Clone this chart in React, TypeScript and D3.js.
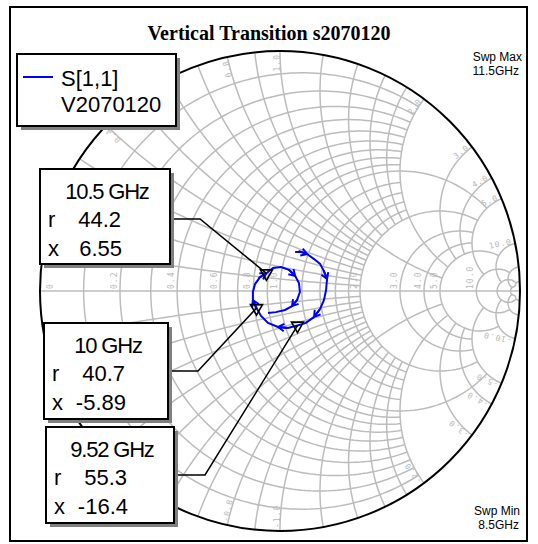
import React from "react";
import * as d3 from "d3";

const W = 538;
const H = 544;

// S[1,1] reflection coefficient, sweep 8.5 GHz -> 11.5 GHz
const s11Re = [0.063, 0.088, 0.113, 0.142, 0.167, 0.183, 0.196, 0.192, 0.183, 0.167, 0.142, 0.108, 0.073, 0.033, -0.008, -0.05, -0.079, -0.098, -0.113, -0.113, -0.104, -0.083, -0.057, -0.029, 0.004, 0.038, 0.063, 0.079, 0.083, 0.071, 0.05, 0.021, -0.017, -0.05];
const s11Im = [0.163, 0.163, 0.154, 0.133, 0.113, 0.083, 0.05, 0.004, -0.038, -0.075, -0.108, -0.133, -0.144, -0.154, -0.15, -0.133, -0.104, -0.071, -0.038, -0.004, 0.029, 0.058, 0.074, 0.096, 0.1, 0.088, 0.063, 0.033, -0.004, -0.038, -0.063, -0.079, -0.088, -0.092];

// markers (ohms, Z0 = 50)
const markerFreq = ["10.5 GHz", "10 GHz", "9.52 GHz"];
const markerR = [44.2, 40.7, 55.3];
const markerX = [6.55, -5.89, -16.4];
const markerRText = ["44.2", "40.7", "55.3"];
const markerXText = ["6.55", "-5.89", "-16.4"];
const z0 = 50;

// smith grid: resistance circles and the reactance range they span
const rGrid = [0.1, 0.2, 0.3, 0.4, 0.5, 0.6, 0.7, 0.8, 0.9, 1.2, 1.4, 1.6, 1.8, 1, 2, 3, 4, 5, 10, 20, 50];
const rGridLim = [2, 2, 2, 2, 2, 2, 2, 2, 2, 2, 2, 2, 2, 5, 5, 5, 5, 10, 20, 50, 50];
// reactance arcs and the resistance range they span
const xGrid = [0.1, 0.2, 0.3, 0.4, 0.5, 0.6, 0.7, 0.8, 0.9, 1.2, 1.4, 1.6, 1.8, 1, 2, 3, 4, 5, 10, 20, 50];
const xGridLim = [2, 2, 2, 2, 2, 2, 2, 2, 2, 2, 2, 2, 2, 5, 5, 5, 5, 10, 20, 50, 50];

const rLabels = [0, 0.2, 0.4, 0.6, 0.8, 1.0, 2.0, 3.0, 4.0, 5.0, 10.0];
const xLabels = [0.2, 0.4, 0.6, 0.8, 1.0, 2.0, 3.0, 4.0, 5.0, 10.0];

const cx = 280, cy = 291, R = 240;
const sx = d3.scaleLinear().domain([-1, 1]).range([cx - R, cx + R]);
const sy = d3.scaleLinear().domain([-1, 1]).range([cy + R, cy - R]);

function gamma(r: number, x: number): [number, number] {
  const d = (r + 1) * (r + 1) + x * x;
  return [(r * r - 1 + x * x) / d, (2 * x) / d];
}

const line = d3.line<[number, number]>().x(d => sx(d[0])).y(d => sy(d[1]));

function rCurve(r: number, xmax: number) {
  const t0 = Math.atan(xmax);
  const pts: [number, number][] = d3.range(0, 201).map(i => {
    const t = -t0 + (2 * t0 * i) / 200;
    return gamma(r, Math.tan(t));
  });
  return line(pts) || "";
}

function xCurve(x: number, rmax: number) {
  const t1 = Math.atan(rmax);
  const pts: [number, number][] = d3.range(0, 151).map(i => gamma(Math.tan((t1 * i) / 150), x));
  return line(pts) || "";
}

const GRID = "#bcbcbc";
const LBL = { fontFamily: "DejaVu Sans Mono", fontSize: 8, fill: "#b8b8b8", letterSpacing: 1 } as const;
const BOXFONT = "Liberation Sans, Arial, sans-serif";

const boxes = [
  { x: 40, y: 169, w: 130, h: 95, ly: 219, bend: 200 },
  { x: 44, y: 323, w: 124, h: 96, ly: 371, bend: 198 },
  { x: 46, y: 427, w: 128, h: 96, ly: 475, bend: 205 },
];

export default function App() {
  const trace: [number, number][] = s11Re.map((v, i) => [v, s11Im[i]]);
  const arrows = d3.range(2, trace.length - 1, 4).map(i => {
    const [x0, y0] = [sx(trace[i - 1][0]), sy(trace[i - 1][1])];
    const [x1, y1] = [sx(trace[i][0]), sy(trace[i][1])];
    const a = Math.atan2(y1 - y0, x1 - x0);
    const L = 7, s = 0.55;
    return `M${x1 - L * Math.cos(a - s)},${y1 - L * Math.sin(a - s)}L${x1},${y1}L${x1 - L * Math.cos(a + s)},${y1 - L * Math.sin(a + s)}M${x1},${y1}L${x1 - L * 1.3 * Math.cos(a)},${y1 - L * 1.3 * Math.sin(a)}`;
  });
  const markers = markerR.map((r, i) => {
    const g = gamma(r / z0, markerX[i] / z0);
    return [sx(g[0]), sy(g[1])];
  });

  return (
    <svg width={W} height={H} style={{ position: "absolute", left: 0, top: 0, background: "#fff" }}>
      <rect x={0} y={0} width={W} height={H} fill="#fff" />
      <rect x={10} y={7} width={517} height={534} fill="none" stroke="#000" strokeWidth={2} />

      <g fill="none" stroke={GRID} strokeWidth={1.5}>
        {rGrid.map((r, i) => <path key={"r" + i} d={rCurve(r, rGridLim[i])} />)}
        {xGrid.map((x, i) => <path key={"xp" + i} d={xCurve(x, xGridLim[i])} />)}
        {xGrid.map((x, i) => <path key={"xn" + i} d={xCurve(-x, xGridLim[i])} />)}
        <line x1={sx(-1)} y1={sy(0)} x2={sx(1)} y2={sy(0)} />
      </g>

      {rLabels.map(r => {
        const gx = r === 0 ? sx(-1) + 13 : sx((r - 1) / (r + 1)) - 3;
        return (
          <text key={"rl" + r} {...LBL} transform={`translate(${gx},${cy - 2}) rotate(-90)`}>
            {r === 0 ? "0" : r.toFixed(1)}
          </text>
        );
      })}
      {xLabels.map(x => {
        const th = Math.PI - 2 * Math.atan(x);
        const rr = R - 3;
        return (
          <g key={"xl" + x}>
            <text {...LBL} textAnchor="end"
              transform={`translate(${cx + rr * Math.cos(th)},${cy - rr * Math.sin(th)}) rotate(${-th * 180 / Math.PI})`}>
              {x.toFixed(1)}
            </text>
            <text {...LBL} textAnchor="start"
              transform={`translate(${cx + rr * Math.cos(-th)},${cy + rr * Math.sin(th)}) rotate(${th * 180 / Math.PI + 180})`}>
              {(-x).toFixed(1)}
            </text>
          </g>
        );
      })}

      <circle cx={cx} cy={cy} r={R} fill="none" stroke="#000" strokeWidth={2} />

      <path d={line(trace) || ""} fill="none" stroke="#0000ff" strokeWidth={2} />
      <path d={arrows.join("")} fill="none" stroke="#0000ff" strokeWidth={2} />

      {markers.map(([mx, my], i) => (
        <path key={"m" + i} d={`M${mx - 6},${my - 3.5}L${mx + 6},${my - 3.5}L${mx},${my + 7}Z`} fill="none" stroke="#000" strokeWidth={1.6} />
      ))}

      {boxes.map((b, i) => (
        <g key={"b" + i}>
          <polyline points={`${b.x + b.w},${b.ly} ${b.bend},${b.ly} ${markers[i][0]},${markers[i][1]}`} fill="none" stroke="#000" strokeWidth={1.5} />
          <rect x={b.x + 4} y={b.y + 4} width={b.w} height={b.h} fill="#808080" />
          <rect x={b.x} y={b.y} width={b.w} height={b.h} fill="#fff" stroke="#000" strokeWidth={2} />
          <g fontFamily={BOXFONT} fontSize={22} fill="#000">
            <text x={b.x + b.w / 2 + 2} y={b.y + 30} textAnchor="middle" letterSpacing={-1.2}>{markerFreq[i]}</text>
            <text x={b.x + 8} y={b.y + 58}>r</text>
            <text x={b.x + 81} y={b.y + 58} textAnchor="end">{markerRText[i]}</text>
            <text x={b.x + 8} y={b.y + 87}>x</text>
            <text x={b.x + 82} y={b.y + 87} textAnchor="end">{markerXText[i]}</text>
          </g>
        </g>
      ))}

      <rect x={21} y={58} width={159} height={72} fill="#808080" />
      <rect x={17} y={54} width={159} height={72} fill="#fff" stroke="#000" strokeWidth={2} />
      <line x1={23} y1={77} x2={53} y2={77} stroke="#0000ff" strokeWidth={2} />
      <g fontFamily={BOXFONT} fontSize={22} fill="#000">
        <text x={61} y={86}>S[1,1]</text>
        <text x={61} y={112}>V2070120</text>
      </g>

      <text x={269} y={40} textAnchor="middle" fontFamily="Liberation Serif, Times New Roman, serif" fontWeight="bold" fontSize={20}>
        Vertical Transition s2070120
      </text>
      <g fontFamily={BOXFONT} fontSize={12} fill="#000" textAnchor="end">
        <text x={522} y={61}>Swp Max</text>
        <text x={519} y={75}>11.5GHz</text>
        <text x={520} y={515}>Swp Min</text>
        <text x={519} y={529}>8.5GHz</text>
      </g>
    </svg>
  );
}
